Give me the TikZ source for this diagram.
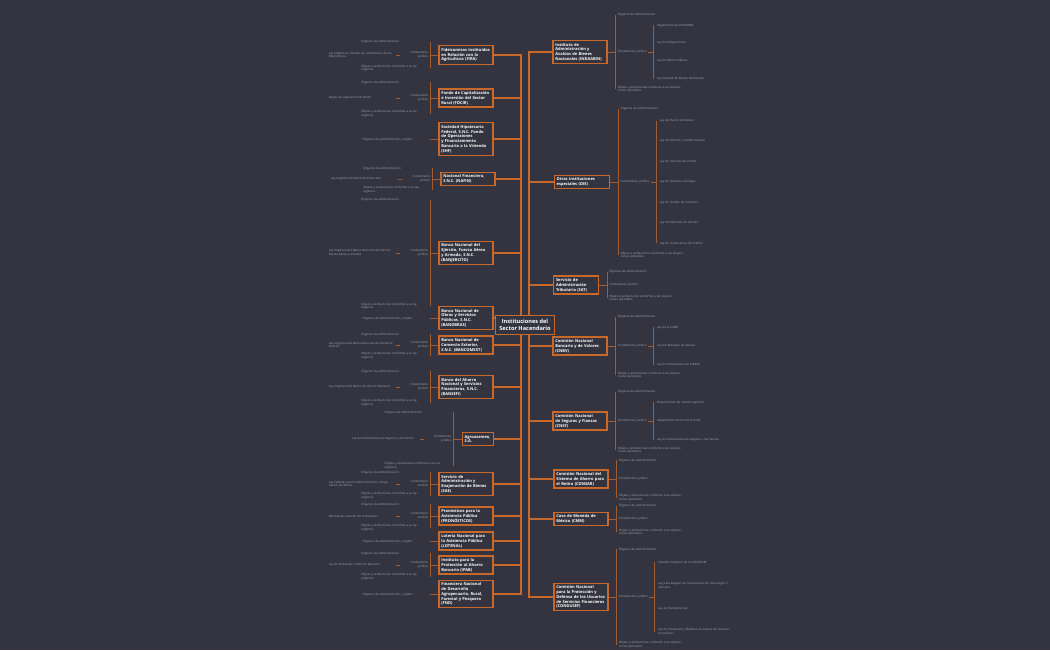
\documentclass[tikz,border=0pt]{standalone}
\usepackage{fontspec}
\setmainfont{Open Sans}
\usetikzlibrary{backgrounds}
\definecolor{bg}{HTML}{33343F}
\definecolor{org}{HTML}{C8692B}
\definecolor{leaf}{HTML}{A8A8B0}
\newcommand{\nohyph}{\hyphenpenalty=10000\relax\exhyphenpenalty=10000\relax}
\tikzset{
 mainbox/.style={draw=org,line width=0.9pt,fill=bg,text=white,font=\fontsize{3}{3.6}\selectfont\bfseries\nohyph,align=left,text width=#1,inner sep=1.8pt},
 mainbox/.default=37pt,
 rootbox/.style={draw=org,line width=1pt,fill=bg,text=white,font=\fontsize{4.2}{5}\selectfont\bfseries,align=center,inner sep=3pt},
 leafR/.style={text=leaf,font=\fontsize{2.2}{2.7}\selectfont,align=left,anchor=west,inner sep=0.5pt,text width=#1},
 leafR/.default=45pt,
 leafL/.style={text=leaf,font=\fontsize{2.2}{2.7}\selectfont,align=left,anchor=east,inner sep=0.5pt,text width=#1},
 leafL/.default=45pt,
 trunk/.style={draw=org,line width=0.8pt},
 twig/.style={draw=org!75!bg,line width=0.5pt},
}
\begin{document}
\begin{tikzpicture}[x=0.75pt,y=-0.75pt]
\begin{scope}[on background layer]
\fill[bg] (0,0) rectangle (1050,650);
\end{scope}
\useasboundingbox (0,0) rectangle (1050,650);
\node[rootbox] (root) at (525,325) {Instituciones del\\Sector Hacendario};
% left main nodes
\node[mainbox] (L1) at (466,55) {Fideicomisos Instituidos en Relación con la Agricultura (FIRA)};
\node[mainbox] (L2) at (466,98) {Fondo de Capitalización e Inversión del Sector Rural (FOCIR)};
\node[mainbox] (L3) at (466,139) {Sociedad Hipotecaria Federal, S.N.C. Fondo de Operaciones y Financiamiento Bancario a la Vivienda (SHF)};
\node[mainbox] (L4) at (468,179) {Nacional Financiera, S.N.C. (NAFIN)};
\node[mainbox] (L5) at (466,253) {Banco Nacional del Ejército, Fuerza Aérea y Armada, S.N.C. (BANJERCITO)};
\node[mainbox] (L6) at (466,318) {Banco Nacional de Obras y Servicios Públicos, S.N.C. (BANOBRAS)};
\node[mainbox] (L7) at (466,345) {Banco Nacional de Comercio Exterior, S.N.C. (BANCOMEXT)};
\node[mainbox] (L8) at (466,387) {Banco del Ahorro Nacional y Servicios Financieros, S.N.C. (BANSEFI)};
\node[mainbox=20pt] (L9) at (478,439) {Agroasemex, S.A.};
\node[mainbox] (L10) at (466,484) {Servicio de Administración y Enajenación de Bienes (SAE)};
\node[mainbox] (L11) at (466,516) {Pronósticos para la Asistencia Pública (PRONÓSTICOS)};
\node[mainbox] (L12) at (466,541) {Lotería Nacional para la Asistencia Pública (LOTENAL)};
\node[mainbox] (L13) at (466,565) {Instituto para la Protección al Ahorro Bancario (IPAB)};
\node[mainbox] (L14) at (466,594) {Financiera Nacional de Desarrollo Agropecuario, Rural, Forestal y Pesquero (FND)};
% right main nodes
\node[mainbox] (R1) at (580,52) {Instituto de Administración y Avalúos de Bienes Nacionales (INDAABIN)};
\node[mainbox=38pt] (R2) at (582,182) {Otras instituciones especiales (OIE)};
\node[mainbox=30pt] (R3) at (576,285) {Servicio de Administración Tributaria (SAT)};
\node[mainbox] (R4) at (580,346) {Comisión Nacional Bancaria y de Valores (CNBV)};
\node[mainbox] (R5) at (580,421) {Comisión Nacional de Seguros y Fianzas (CNSF)};
\node[mainbox] (R6) at (581,479) {Comisión Nacional del Sistema de Ahorro para el Retiro (CONSAR)};
\node[mainbox] (R7) at (581,519) {Casa de Moneda de México (CMM)};
\node[mainbox] (R8) at (581,597) {Comisión Nacional para la Protección y Defensa de los Usuarios de Servicios Financieros (CONDUSEF)};
% trunk connectors
\begin{scope}[on background layer]
\foreach \n in {L1,L2,L3,L4,L5,L6,L7,L8,L9,L10,L11,L12,L13,L14}
  \draw[trunk] ([xshift=-3pt]root.south) |- (\n.east);
\foreach \n in {R1,R2,R3,R4,R5,R6,R7,R8}
  \draw[trunk] ([xshift=3pt]root.north) |- (\n.west);
\end{scope}
% left leaves
\foreach \n/\dy in {L1/10,L2/12,L4/8,L5/40,L7/8,L8/12,L9/20,L10/9,L11/9,L13/9}{
  \coordinate (\n b) at ([xshift=-6pt]\n.west);
  \draw[twig] (\n.west) -- (\n b);
  \draw[twig] ([yshift=-\dy pt]\n b) -- ([yshift=\dy pt]\n b);
  \node[leafL=50pt] at ([xshift=-1pt,yshift=-\dy pt]\n b) {Objeto y atribuciones conforme a su ley orgánica};
  \node[leafL=20pt,align=right] (\n f) at ([xshift=-1pt]\n b) {Fundamento jurídico};
  \node[leafL=50pt] at ([xshift=-1pt,yshift=\dy pt]\n b) {Órganos de administración};
}
\foreach \n/\t in {L1/{Ley Orgánica y decreto de constitución de los fideicomisos},L2/{Reglas de operación del fondo},L4/{Ley Orgánica de Nacional Financiera},L5/{Ley Orgánica del Banco Nacional del Ejército, Fuerza Aérea y Armada},L7/{Ley Orgánica del Banco Nacional de Comercio Exterior},L8/{Ley Orgánica del Banco del Ahorro Nacional},L9/{Ley de Instituciones de Seguros y de Fianzas},L10/{Ley Federal para la Administración y Enajenación de Bienes},L11/{Decreto de creación de Pronósticos},L13/{Ley de Protección al Ahorro Bancario}}{
  \draw[twig] (\n f.west) -- ++(-3pt,0) node[leafL=50pt,anchor=east] {\t};
}
\foreach \n in {L3,L6,L12,L14}{
  \draw[twig] (\n.west) -- ++(-6pt,0) node[leafL=50pt,anchor=east] {Órganos de administración y objeto};
}
% right leaves
\foreach \n/\dy in {R1/28,R2/55,R3/10,R4/22,R5/22,R6/14,R7/10,R8/36}{
  \coordinate (\n b) at ([xshift=6pt]\n.east);
  \draw[twig] (\n.east) -- (\n b);
  \draw[twig] ([yshift=-\dy pt]\n b) -- ([yshift=\dy pt]\n b);
  \node[leafR=50pt] at ([xshift=1pt,yshift=-\dy pt]\n b) {Objeto y atribuciones conforme a las disposiciones aplicables};
  \node[leafR=22pt] (\n f) at ([xshift=1pt]\n b) {Fundamento jurídico};
  \node[leafR=50pt] at ([xshift=1pt,yshift=\dy pt]\n b) {Órganos de administración};
}
\foreach \n/\h/\k/\items in {
 R1/20/4/{Ley General de Bienes Nacionales,Ley de Obras Públicas,Ley de Adquisiciones,Reglamento del INDAABIN},
 R2/46/7/{Ley de Instituciones de Crédito,Ley del Mercado de Valores,Ley de Fondos de Inversión,Ley de Sistemas de Pagos,Ley de Uniones de Crédito,Ley del Ahorro y Crédito Popular,Ley del Banco de México},
 R4/14/3/{Ley de Instituciones de Crédito,Ley del Mercado de Valores,Ley de la CNBV},
 R5/14/3/{Ley de Instituciones de Seguros y de Fianzas,Reglamento Interior de la CNSF,Disposiciones de carácter general},
 R8/26/4/{Ley de Protección y Defensa al Usuario de Servicios Financieros,Ley de Transparencia,Ley para Regular las Instituciones de Tecnología Financiera,Estatuto Orgánico de la CONDUSEF}}{
  \coordinate (\n c) at ([xshift=4pt]\n f.east);
  \draw[twig] (\n f.east) -- (\n c);
  \draw[twig] ([yshift=-\h pt]\n c) -- ([yshift=\h pt]\n c);
  \foreach \t [count=\i] in \items {
    \node[leafR=55pt] at ([xshift=2pt,yshift={-\h pt+(\i-1)*2*\h pt/(\k-1)}]\n c) {\t};
  }
}
\end{tikzpicture}
\end{document}
